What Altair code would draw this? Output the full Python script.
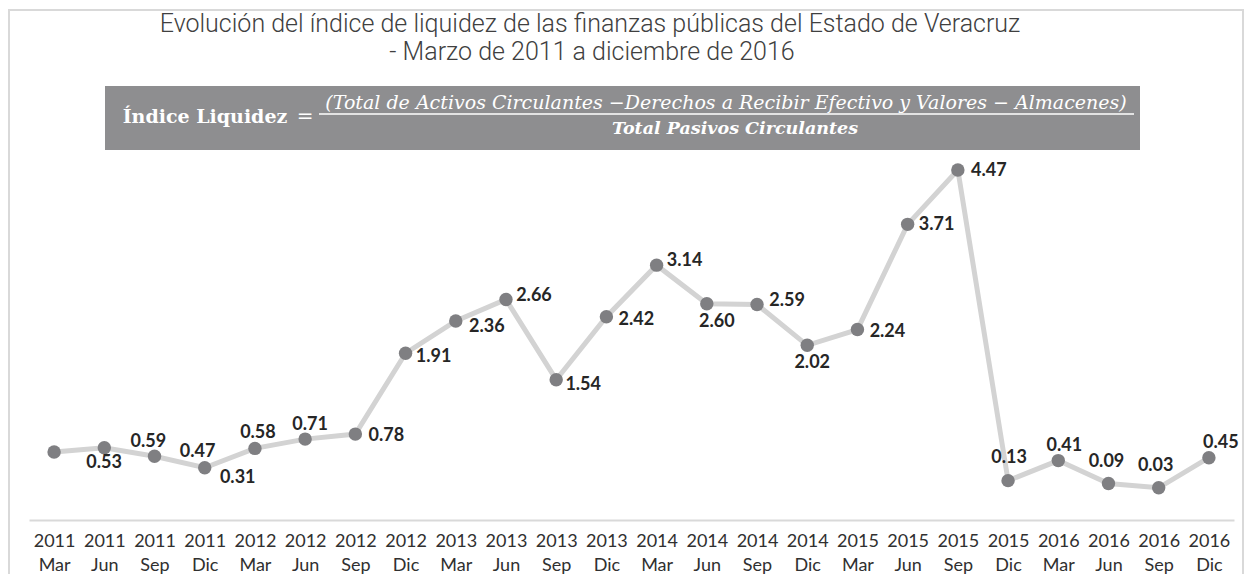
import altair as alt
import pandas as pd

periods = ["2011 Mar", "2011 Jun", "2011 Sep", "2011 Dic",
           "2012 Mar", "2012 Jun", "2012 Sep", "2012 Dic",
           "2013 Mar", "2013 Jun", "2013 Sep", "2013 Dic",
           "2014 Mar", "2014 Jun", "2014 Sep", "2014 Dic",
           "2015 Mar", "2015 Jun", "2015 Sep", "2015 Dic",
           "2016 Mar", "2016 Jun", "2016 Sep", "2016 Dic"]
values = [0.53, 0.59, 0.47, 0.31, 0.58, 0.71, 0.78, 1.91, 2.36, 2.66, 1.54, 2.42,
          3.14, 2.60, 2.59, 2.02, 2.24, 3.71, 4.47, 0.13, 0.41, 0.09, 0.03, 0.45]

# label offsets (style, pixels relative to each point)
label_dx = [50, 44, 43, 33, 3, 5, 31, 28, 31, 28, 27, 30, 28, 10, 30, 5, 30, 29, 31, 1, 6, -2, -3, 12]
label_dy = [11, -6, -4, 10, -15, -14, 2, 4, 6, -4, 5, 3, -4, 18, -4, 18, 2, 1, 1, -23, -15, -21, -22, -15]

title_1 = "Evolución del índice de liquidez de las finanzas públicas del Estado de Veracruz"
title_2 = "- Marzo de 2011 a diciembre de 2016"
lhs = "Índice Liquidez"
numerator = "(Total de Activos Circulantes −Derechos a Recibir Efectivo y Valores − Almacenes)"
denominator = "Total Pasivos Circulantes"

df = pd.DataFrame({"periodo": periods, "valor": values, "idx": list(range(len(values)))})
one = pd.DataFrame({"a": [0]})

base = alt.Chart(df).encode(
    x=alt.X("periodo:N", sort=periods,
            scale=alt.Scale(type="point", padding=0.5),
            axis=alt.Axis(title=None, labelAngle=0, ticks=False, grid=False,
                          domainColor="#d9d9d9", domainWidth=2,
                          labelFont="Lato", labelFontSize=18, labelColor="#303030",
                          labelPadding=12, labelLineHeight=24, labelBaseline="top",
                          labelOverlap=False, labelExpr="split(datum.label, ' ')")),
    y=alt.Y("valor:Q", scale=alt.Scale(domain=[-0.42, 5.0]), axis=None),
)

line = base.mark_line(color="#d3d3d3", strokeWidth=5)
pts = base.mark_circle(size=180, color="#7f7f82", opacity=1)

text_layers = []
for i in range(len(values)):
    text_layers.append(
        base.transform_filter(alt.datum.idx == i).mark_text(
            dx=label_dx[i], dy=label_dy[i], align="center", baseline="middle",
            font="Lato", fontWeight="bold", fontSize=18, color="#262626"
        ).encode(text=alt.Text("valor:Q", format=".2f"))
    )

frame = alt.Chart(one).mark_rect(fillOpacity=0, stroke="#d9d9d9", strokeWidth=2).encode(
    x=alt.value(-20), x2=alt.value(1214), y=alt.value(-122), y2=alt.value(470))

box = alt.Chart(one).mark_rect(color="#8e8e90").encode(
    x=alt.value(76), x2=alt.value(1111), y=alt.value(-46), y2=alt.value(18))

bar = alt.Chart(one).mark_rule(color="white", strokeWidth=1.5).encode(
    x=alt.value(290), x2=alt.value(1105), y=alt.value(-18))

def txt(s, x, y, **kw):
    return alt.Chart(one).mark_text(text=s, **kw).encode(x=alt.value(x), y=alt.value(y))

t1 = txt(title_1, 561, -100, font="Roboto", fontWeight=300, fontSize=25, color="#404040",
         align="center", baseline="alphabetic")
t2 = txt(title_2, 563, -72, font="Roboto", fontWeight=300, fontSize=25, color="#404040",
         align="center", baseline="alphabetic")
t_lhs = txt(lhs, 176, -15, font="DejaVu Serif", fontWeight="bold", fontSize=19,
            color="white", align="center", baseline="middle")
t_eq = txt("=", 276, -15, font="DejaVu Serif", fontSize=20, color="white",
           align="center", baseline="middle")
t_num = txt(numerator, 697, -29, font="DejaVu Serif", fontStyle="italic", fontSize=19,
            color="white", align="center", baseline="middle")
t_den = txt(denominator, 706, -3, font="DejaVu Serif", fontStyle="italic", fontWeight="bold",
            fontSize=17.5, color="white", align="center", baseline="middle")

chart = alt.layer(frame, box, bar, t1, t2, t_lhs, t_eq, t_num, t_den,
                  line, pts, *text_layers).properties(
    width=1205, height=388,
    background="white",
    autosize=alt.AutoSizeParams(type="none"),
    padding={"left": 21, "top": 124, "right": 10, "bottom": 54},
).configure_view(strokeWidth=0, stroke=None)

chart.save("out.html", embed_options={"renderer": "svg", "actions": False})
